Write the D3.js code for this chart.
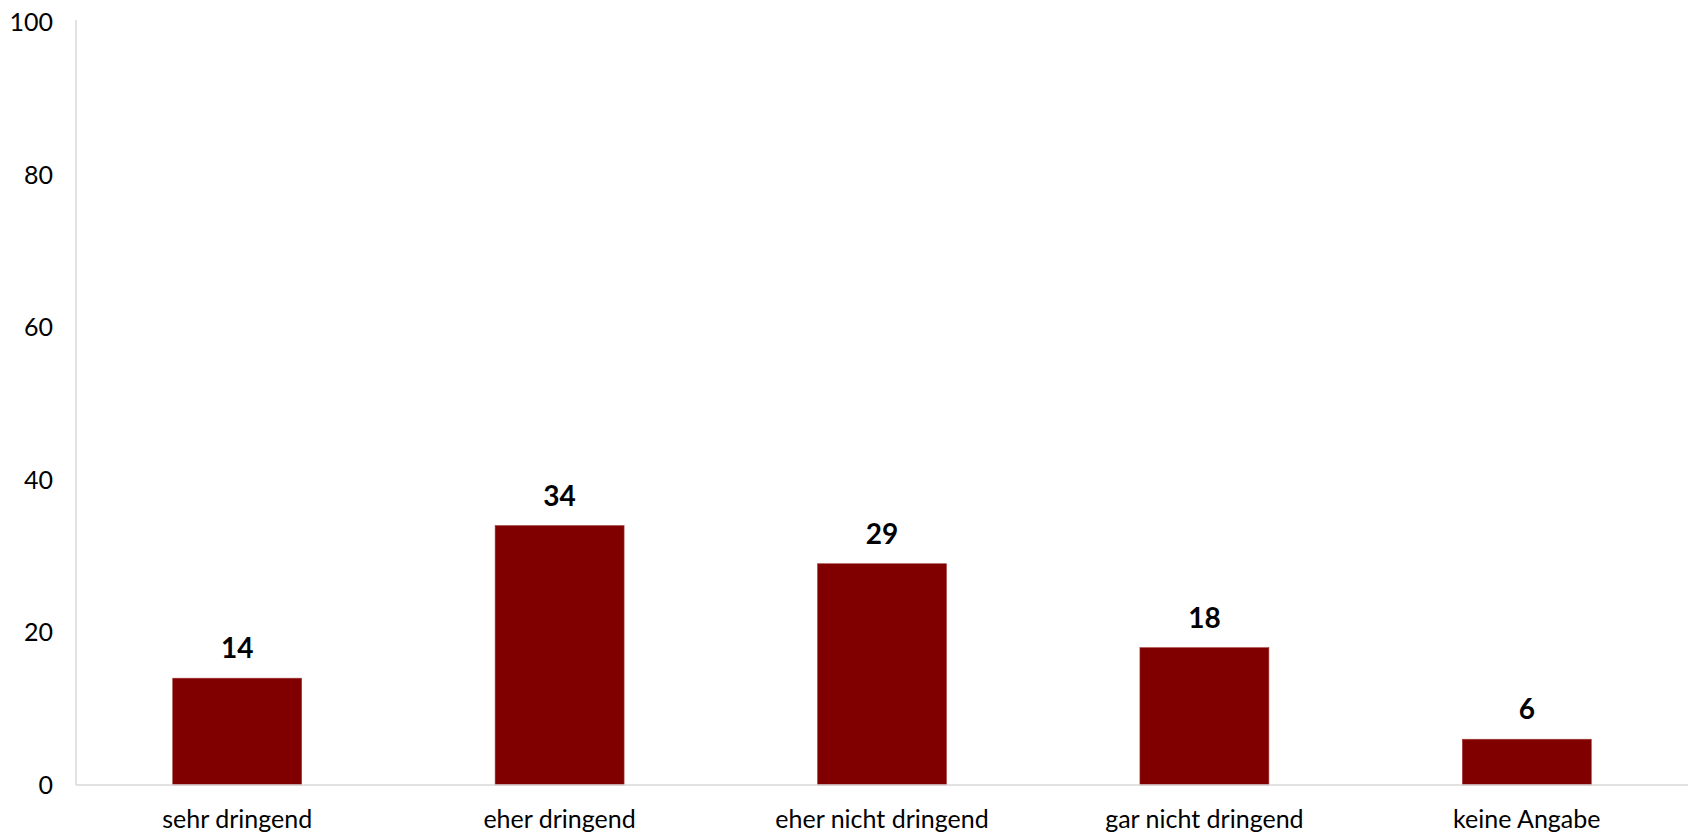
<!DOCTYPE html>
<html>
<head>
<meta charset="utf-8">
<script src="https://cdn.jsdelivr.net/npm/d3@7"></script>
<style>
  html, body { margin: 0; padding: 0; background: #fff; }
  svg text { font-family: Lato, "Open Sans", sans-serif; fill: #000; }
</style>
</head>
<body>
<svg id="chart" width="1692" height="833"></svg>
<script>
const categories = ["sehr dringend", "eher dringend", "eher nicht dringend", "gar nicht dringend", "keine Angabe"];
const values = [14, 34, 29, 18, 6];
const yTicks = [0, 20, 40, 60, 80, 100];

const svg = d3.select("#chart");
const plot = { left: 76, right: 1688, top: 22, bottom: 785 };

const x = d3.scaleBand().domain(categories).range([plot.left, plot.right]).paddingInner(0.6).paddingOuter(0.3);
const y = d3.scaleLinear().domain([0, 100]).range([plot.bottom, plot.top]);

// y axis: labels only plus a light vertical line
svg.append("line")
  .attr("x1", plot.left).attr("x2", plot.left)
  .attr("y1", y(100) - 2).attr("y2", plot.bottom)
  .attr("stroke", "#d9d9d9").attr("stroke-width", 1.5);

svg.append("g").selectAll("text").data(yTicks).join("text")
  .attr("x", 53).attr("y", d => y(d))
  .attr("dy", "0.36em")
  .attr("text-anchor", "end")
  .attr("font-size", 25)
  .text(d => d);

// bars
svg.append("g").selectAll("rect").data(values).join("rect")
  .attr("x", (d, i) => x(categories[i]))
  .attr("width", x.bandwidth())
  .attr("y", d => y(d))
  .attr("height", d => y(0) - y(d))
  .attr("fill", "#800000")
  .attr("stroke", "#a33a3a").attr("stroke-width", 0.6);

// baseline
svg.append("line")
  .attr("x1", plot.left).attr("x2", plot.right)
  .attr("y1", plot.bottom).attr("y2", plot.bottom)
  .attr("stroke", "#d9d9d9").attr("stroke-width", 1.5);

// value labels
svg.append("g").selectAll("text").data(values).join("text")
  .attr("x", (d, i) => x(categories[i]) + x.bandwidth() / 2)
  .attr("y", d => y(d) - 20)
  .attr("text-anchor", "middle")
  .attr("font-size", 28)
  .attr("font-weight", "bold")
  .text(d => d);

// category labels
svg.append("g").selectAll("text").data(categories).join("text")
  .attr("x", d => x(d) + x.bandwidth() / 2)
  .attr("y", 828)
  .attr("text-anchor", "middle")
  .attr("font-size", 25)
  .text(d => d);
</script>
</body>
</html>
